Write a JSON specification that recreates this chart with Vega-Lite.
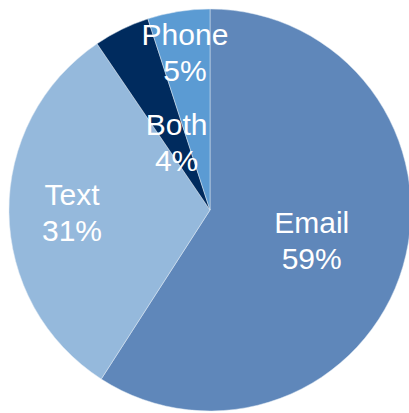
{
  "$schema": "https://vega.github.io/schema/vega-lite/v6.json",
  "width": 420,
  "height": 420,
  "padding": 0,
  "autosize": {"type": "none"},
  "background": "white",
  "config": {"view": {"stroke": null}},
  "data": {
    "values": [
      {"category": "Email", "share": 59.1, "label": "Email\n59%", "rank": 1},
      {"category": "Text", "share": 31.4, "label": "Text\n31%", "rank": 2},
      {"category": "Both", "share": 4.5, "label": "Both\n4%", "rank": 3},
      {"category": "Phone", "share": 5.0, "label": "Phone\n5%", "rank": 4}
    ]
  },
  "encoding": {
    "theta": {"field": "share", "type": "quantitative", "stack": true},
    "order": {"field": "rank", "type": "quantitative"}
  },
  "layer": [
    {
      "mark": {"type": "arc", "outerRadius": 201, "stroke": "#dfe8f2", "strokeWidth": 0.5},
      "encoding": {
        "color": {
          "field": "category",
          "type": "nominal",
          "scale": {
            "domain": ["Email", "Text", "Both", "Phone"],
            "range": ["#5F87BA", "#95B9DC", "#002B5E", "#5B9BD3"]
          },
          "legend": null
        }
      }
    },
    {
      "mark": {
        "type": "text",
        "lineBreak": "\n",
        "font": "Liberation Sans",
        "fontSize": 30,
        "lineHeight": 36,
        "color": "white",
        "align": "center",
        "baseline": "middle",
        "dy": -16,
        "radius": {"expr": "datum.category === 'Email' ? 106 : datum.category === 'Text' ? 138 : datum.category === 'Both' ? 76 : 160"}
      },
      "encoding": {
        "text": {"field": "label", "type": "nominal"}
      }
    }
  ]
}
